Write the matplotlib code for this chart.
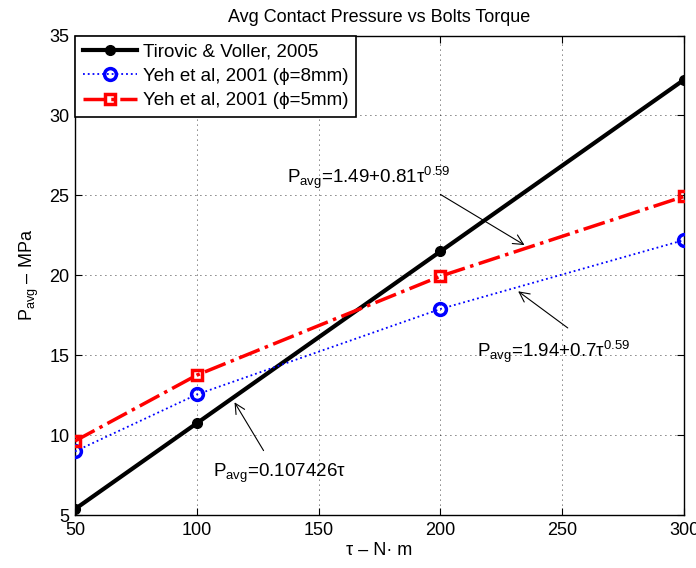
import matplotlib
matplotlib.use('Agg')
import matplotlib.pyplot as plt

# --------------------------- Data ---------------------------
torque = [50, 100, 200, 300]
tirovic = [5.37, 10.74, 21.49, 32.23]
yeh_8mm = [8.98, 12.54, 17.89, 22.20]
yeh_5mm = [9.63, 13.75, 19.94, 24.93]

x_ticks = [50, 100, 150, 200, 250, 300]
y_ticks = [5, 10, 15, 20, 25, 30, 35]

# --------------------------- Style ---------------------------
plt.rcParams['font.family'] = ['Liberation Sans', 'DejaVu Sans']
plt.rcParams['mathtext.fontset'] = 'custom'
plt.rcParams['mathtext.rm'] = 'Liberation Sans'
plt.rcParams['mathtext.it'] = 'Liberation Sans'
plt.rcParams['font.size'] = 13

W, H = 696, 568
fig = plt.figure(figsize=(W / 100, H / 100), dpi=100)
ax = fig.add_axes([75 / W, 1 - 515 / H, 609 / W, 479.5 / H])

ax.plot(torque, tirovic, '-', color='black', lw=3, marker='o', ms=7,
        mfc='black', mec='black', label='Tirovic & Voller, 2005', zorder=3)
ax.plot(torque, yeh_8mm, ':', color='blue', lw=1.3, marker='o', ms=8.5,
        mfc='none', mec='blue', mew=2.5, label='Yeh et al, 2001 (ϕ=8mm)', zorder=3)
ax.plot(torque, yeh_5mm, '-.', color='red', lw=2.5, marker='s', ms=7.5,
        mfc='none', mec='red', mew=2.5, label='Yeh et al, 2001 (ϕ=5mm)', zorder=3)

ax.set_xlim(50, 300)
ax.set_ylim(5, 35)
ax.set_xticks(x_ticks)
ax.set_yticks(y_ticks)
ax.grid(True, linestyle=(0, (1, 5)), color='black', lw=0.6)
ax.tick_params(direction='in', length=5, top=True, right=True, labelsize=13)
ax.tick_params(axis='x', pad=5)
ax.tick_params(axis='y', pad=4)
for s in ax.spines.values():
    s.set_linewidth(1.0)

ax.set_title('Avg Contact Pressure vs Bolts Torque', fontsize=13, pad=10)
ax.set_xlabel('τ – N· m', fontsize=13, labelpad=2)
ax.set_ylabel(r'P$_{\mathrm{avg}}$ – MPa', fontsize=13, labelpad=6)

leg = ax.legend(loc='upper left', fontsize=13.5, frameon=True, fancybox=False,
                edgecolor='black', framealpha=1, borderaxespad=0,
                handlelength=2.9, borderpad=0.4, labelspacing=0.4,
                handletextpad=0.35)
leg.get_frame().set_linewidth(1.2)

arrow = dict(arrowstyle='->', color='black', lw=0.8, mutation_scale=18)
ax.text(137, 25.8, r'P$_{\mathrm{avg}}$=1.49+0.81τ$^{\mathrm{0.59}}$', fontsize=13.5)
ax.annotate('', xy=(235.5, 21.8), xytext=(199, 25.15), arrowprops=arrow)
ax.text(215, 14.9, r'P$_{\mathrm{avg}}$=1.94+0.7τ$^{\mathrm{0.59}}$', fontsize=13.5)
ax.annotate('', xy=(231, 19.1), xytext=(253.2, 16.6), arrowprops=arrow)
ax.text(106.7, 7.4, r'P$_{\mathrm{avg}}$=0.107426τ', fontsize=13.5)
ax.annotate('', xy=(114.9, 12.2), xytext=(128, 8.88), arrowprops=arrow)

fig.savefig('out.png', dpi=100)
